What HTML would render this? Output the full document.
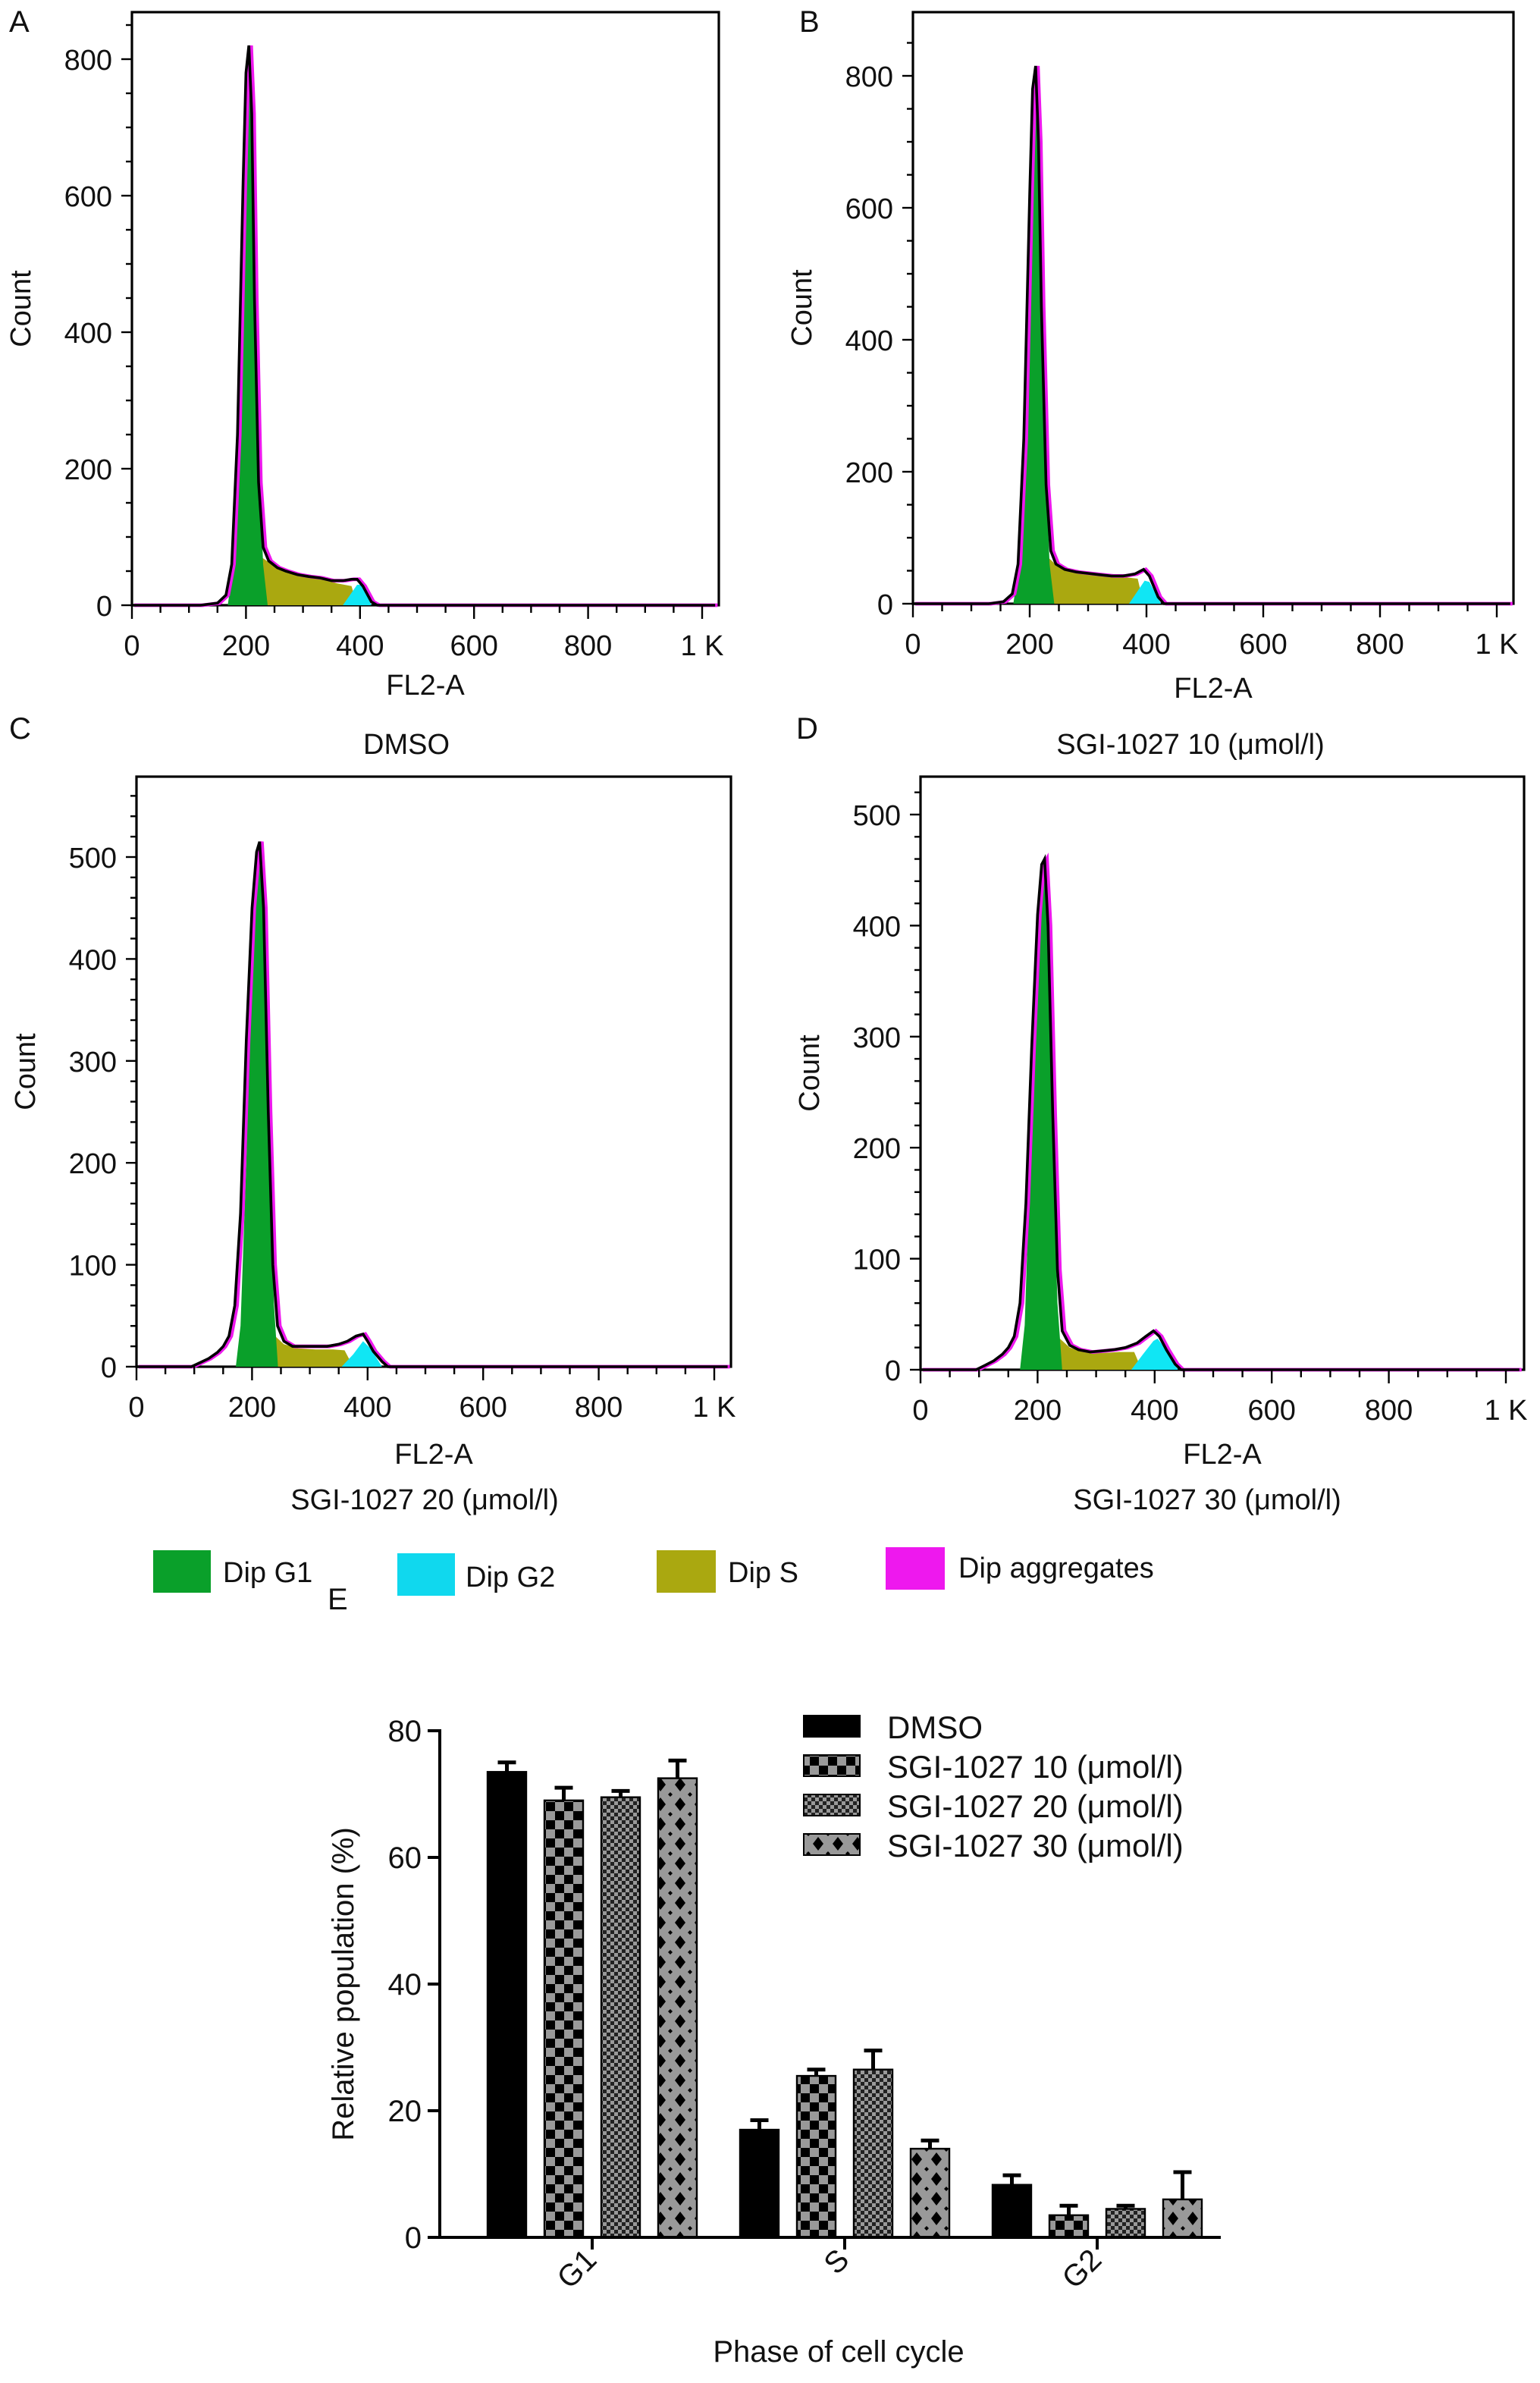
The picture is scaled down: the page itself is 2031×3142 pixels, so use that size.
<!DOCTYPE html>
<html><head><meta charset="utf-8"><style>
html,body{margin:0;padding:0;background:#fff}
svg{display:block}
text{font-family:"Liberation Sans",Arial,sans-serif;fill:#111}
</style></head><body>
<svg id="fig" width="2031" height="3142" viewBox="0 0 1015.5 1571" xmlns="http://www.w3.org/2000/svg">
<defs>
<pattern id="pChk" width="12" height="12" patternUnits="userSpaceOnUse"><rect width="12" height="12" fill="#999"/><rect width="6" height="6" fill="#000"/><rect x="6" y="6" width="6" height="6" fill="#000"/></pattern>
<pattern id="pFine" width="5" height="5" patternUnits="userSpaceOnUse"><rect width="5" height="5" fill="#999"/><rect width="2.5" height="2.5" fill="#222"/><rect x="2.5" y="2.5" width="2.5" height="2.5" fill="#222"/></pattern>
<pattern id="pDia" width="13" height="13" patternUnits="userSpaceOnUse"><rect width="13" height="13" fill="#999"/><path d="M6.5 2 L10 6.5 L6.5 11 L3 6.5Z" fill="#000"/><path d="M0 0 L1.5 0 L0 1.5Z M13 0 L11.5 0 L13 1.5Z M0 13 L1.5 13 L0 11.5Z M13 13 L11.5 13 L13 11.5Z" fill="#000"/></pattern>
</defs>
<g id="hist"></g>
<g id="legend1">
<rect x="101" y="1022" width="38" height="28" fill="#0aa02a"/>
<text x="147" y="1043" font-size="19">Dip G1</text>
<rect x="262" y="1024" width="38" height="28" fill="#10d8ee"/>
<text x="307" y="1046" font-size="19">Dip G2</text>
<rect x="433" y="1022" width="39" height="28" fill="#aaa810"/>
<text x="480" y="1043" font-size="19">Dip S</text>
<rect x="584" y="1020" width="39" height="28" fill="#ee18ee"/>
<text x="632" y="1040" font-size="19">Dip aggregates</text>
</g>
<g id="bars"></g>
</svg>
<script>
// ---------- Histogram data (FL2-A value, count) ----------
const outlineA = [[0,0],[120,0],[150,3],[165,15],[175,60],[185,250],[195,620],[200,780],[205,820],[210,720],[215,450],[222,180],[230,85],[240,65],[255,55],[270,50],[290,45],[310,42],[330,40],[350,36],[370,36],[385,38],[395,38],[405,28],[420,5],[430,0],[1023,0]];
const g1A = [[168,0],[178,60],[188,300],[197,700],[205,815],[212,650],[220,280],[230,60],[238,0]];
const sA = [[228,0],[228,70],[245,60],[270,50],[300,44],[330,40],[360,32],[385,28],[395,0]];
const g2A = [[370,0],[395,30],[405,30],[420,0]];

const outlineB = [[0,0],[130,0],[155,3],[170,15],[180,60],[190,250],[200,620],[205,780],[210,815],[215,700],[220,450],[228,180],[236,80],[245,60],[260,52],[280,48],[300,46],[320,44],[340,42],[360,42],[380,45],[395,52],[405,42],[420,10],[430,0],[1023,0]];
const g1B = [[172,0],[182,60],[192,300],[202,700],[210,805],[217,650],[225,280],[234,60],[242,0]];
const sB = [[232,0],[232,70],[250,55],[280,48],[310,45],[340,42],[365,40],[385,38],[395,0]];
const g2B = [[370,0],[397,35],[405,33],[425,0]];

const outlineC = [[0,0],[95,0],[110,4],[125,8],[140,14],[150,20],[160,30],[170,60],[180,150],[190,320],[200,450],[208,505],[213,515],[220,450],[228,250],[236,100],[244,40],[255,25],[270,20],[290,20],[310,20],[330,20],[350,22],[365,25],[380,30],[392,32],[400,25],[410,15],[425,5],[435,0],[1023,0]];
const g1C = [[172,0],[180,40],[190,200],[200,420],[210,500],[215,505],[222,420],[230,200],[238,60],[245,0]];
const sC = [[240,0],[240,30],[255,22],[280,18],[310,17],[340,17],[360,16],[375,0]];
const g2C = [[355,0],[375,12],[392,25],[405,18],[425,0]];

const outlineD = [[0,0],[95,0],[110,4],[125,8],[140,14],[150,20],[160,30],[170,60],[180,150],[190,290],[200,410],[207,455],[212,460],[218,400],[226,230],[234,90],[242,35],[255,22],[270,18],[290,16],[310,17],[330,18],[350,20],[370,24],[385,30],[398,35],[408,30],[420,18],[435,5],[445,0],[1023,0]];
const g1D = [[170,0],[178,40],[188,200],[198,390],[207,450],[212,452],[218,380],[226,200],[234,60],[242,0]];
const sD = [[238,0],[238,28],[255,20],[280,16],[310,15],[340,16],[365,16],[378,0]];
const g2D = [[360,0],[380,14],[398,26],[405,28],[420,18],[440,0]];

const xTickVals = [0,200,400,600,800,1000];
const xTickLabels = ["0","200","400","600","800","1 K"];
const yTicksAB = [0,200,400,600,800];
const yTicksCD = [0,100,200,300,400,500];

const panels = [
 {id:"a", letter:"A", L:87, R:474, T:8, y0:399, x1k:463, ypu:0.45, ticks:yTicksAB, minor:50, out:outlineA, g1:g1A, s:sA, g2:g2A, xt:458},
 {id:"b", letter:"B", L:602, R:998, T:8, y0:398, x1k:987, ypu:0.435, ticks:yTicksAB, minor:50, out:outlineB, g1:g1B, s:sB, g2:g2B, xt:460},
 {id:"c", letter:"C", L:90, R:482, T:512, y0:901, x1k:471, ypu:0.672, ticks:yTicksCD, minor:20, out:outlineC, g1:g1C, s:sC, g2:g2C, xt:965},
 {id:"d", letter:"D", L:607, R:1005, T:512, y0:903, x1k:993, ypu:0.732, ticks:yTicksCD, minor:20, out:outlineD, g1:g1D, s:sD, g2:g2D, xt:965}
];
const panelTitles = [["DMSO",268,497],["SGI-1027 10 (\u03bcmol/l)",785,497],["SGI-1027 20 (\u03bcmol/l)",280,995],["SGI-1027 30 (\u03bcmol/l)",796,995]];
const letterPos = [[6,21],[527,21],[6,487],[525,487]];

const NS="http://www.w3.org/2000/svg";
function mk(tag, attrs, parent){const e=document.createElementNS(NS,tag);for(const k in attrs)e.setAttribute(k,attrs[k]);parent.appendChild(e);return e;}
const hist=document.getElementById('hist');

panels.forEach((p,i)=>{
  const g=mk('g',{},hist);
  
  
  const xs=v=>p.L+v*(p.x1k-p.L)/1000;
  const ys=c=>p.y0-c*p.ypu;
  const pts=a=>a.map(q=>xs(q[0]).toFixed(1)+','+ys(q[1]).toFixed(1)).join(' ');
  const box=mk('rect',{x:p.L,y:p.T,width:p.R-p.L,height:p.y0-p.T,fill:'none',stroke:'#000','stroke-width':1.6},g);
  
  
  const sP=mk('polygon',{points:pts(p.s),fill:'#aaa810'},g);
  
  
  const g2P=mk('polygon',{points:pts(p.g2),fill:'#10e6f4'},g);
  
  
  const g1P=mk('polygon',{points:pts(p.g1),fill:'#0aa02a'},g);
  
  
  const mag=mk('polyline',{points:pts(p.out.map(q=>[q[0]+4,q[1]])),fill:'none',stroke:'#ee18ee','stroke-width':2.4},g);
  
  
  const ol=mk('polyline',{points:pts(p.out),fill:'none',stroke:'#000','stroke-width':1.8},g);
  
  
  for(let v=0;v<=1000;v+=50){
    const major=v%200===0;
    const t=mk('line',{x1:xs(v),x2:xs(v),y1:p.y0,y2:p.y0+(major?9:5),stroke:'#000','stroke-width':1.2},g);
    
    
  }
  xTickVals.forEach((v,j)=>{
    const t=mk('text',{x:xs(v),y:p.y0+33,'font-size':19,'text-anchor':'middle'},g);
    t.textContent=xTickLabels[j];
    
    
  });
  for(let v=0;ys(v)>=p.T;v+=p.minor){
    const major=p.ticks.includes(v);
    const t=mk('line',{x1:p.L-(major?7:4),x2:p.L,y1:ys(v),y2:ys(v),stroke:'#000','stroke-width':1.2},g);
    
    
  }
  p.ticks.forEach(v=>{
    const t=mk('text',{x:p.L-13,y:ys(v)+7,'font-size':19,'text-anchor':'end'},g);
    t.textContent=String(v);
    
    
  });
  const cy=(p.T+p.y0)/2;
  const yt=mk('text',{x:0,y:0,'font-size':19,'text-anchor':'middle',transform:'translate('+(p.L-67)+','+cy+') rotate(-90)'},g);
  yt.textContent='Count';
  
  
  const xt=mk('text',{x:(p.L+p.R)/2,y:p.xt,'font-size':19,'text-anchor':'middle'},g);
  xt.textContent='FL2-A';
  
  
  const tt=mk('text',{x:panelTitles[i][1],y:panelTitles[i][2],'font-size':19,'text-anchor':'middle'},g);
  tt.textContent=panelTitles[i][0];
  
  
  const lt=mk('text',{x:letterPos[i][0],y:letterPos[i][1],'font-size':20},g);
  lt.textContent=p.letter;
  
  
});

// ---------- Bar chart E ----------
const phases = ["G1","S","G2"];
const seriesNames = ["DMSO","SGI-1027 10 (\u03bcmol/l)","SGI-1027 20 (\u03bcmol/l)","SGI-1027 30 (\u03bcmol/l)"];
const dmsoVals = [73.5, 17, 8.3];
const sgi10Vals = [69, 25.5, 3.5];
const sgi20Vals = [69.5, 26.5, 4.5];
const sgi30Vals = [72.5, 14, 6];
const dmsoErr = [1.5, 1.5, 1.5];
const sgi10Err = [2, 1, 1.5];
const sgi20Err = [1, 3, 0.5];
const sgi30Err = [2.8, 1.3, 4.3];
const yTicksE = [0,20,40,60,80];

const seriesVals=[dmsoVals,sgi10Vals,sgi20Vals,sgi30Vals];
const seriesErr=[dmsoErr,sgi10Err,sgi20Err,sgi30Err];
const fills=['#000','url(#pChk)','url(#pFine)','url(#pDia)'];
const bars=document.getElementById('bars');
const AX=290, AR=805, Y0=1475, PPU=4.175;
const yE=v=>Y0-v*PPU;
const groupStart=gi=>321.5+gi*166.5;
const barW=25.5, barStep=37.5;

const eg=mk('g',{},bars);


seriesVals.forEach((vals,si)=>{
  vals.forEach((v,gi)=>{
    const x=groupStart(gi)+si*barStep;
    const r=mk('rect',{x:x,y:yE(v),width:barW,height:v*PPU,fill:fills[si],stroke:'#000','stroke-width':1.2},eg);
    
    
    const e=seriesErr[si][gi];
    const cx=x+barW/2;
    const el=mk('path',{d:'M'+cx+' '+yE(v)+' V'+yE(v+e)+' M'+(cx-6)+' '+yE(v+e)+' H'+(cx+6),stroke:'#000','stroke-width':2.5,fill:'none'},eg);
    
    
  });
});
const axes=mk('path',{d:'M'+AX+' '+(yE(80)-1)+' V'+Y0+' H'+AR,stroke:'#000','stroke-width':2,fill:'none'},eg);


yTicksE.forEach(v=>{
  const t=mk('line',{x1:AX-8,x2:AX,y1:yE(v),y2:yE(v),stroke:'#000','stroke-width':2},eg);
  
  
  const l=mk('text',{x:AX-12,y:yE(v)+7,'font-size':20,'text-anchor':'end'},eg);
  l.textContent=String(v);
  
  
});
phases.forEach((ph,gi)=>{
  const cx=groupStart(gi)+1.5*barStep+barW/2;
  const t=mk('line',{x1:cx,x2:cx,y1:Y0,y2:Y0+8,stroke:'#000','stroke-width':2},eg);
  
  
  const l=mk('text',{x:0,y:0,'font-size':20,'text-anchor':'end',transform:'translate('+(cx+4)+','+(Y0+16)+') rotate(-45)'},eg);
  l.textContent=ph;
  
  
});
const ytE=mk('text',{x:0,y:0,'font-size':20,'text-anchor':'middle',transform:'translate(233,1308) rotate(-90)'},eg);
ytE.textContent='Relative population (%)';


const xtE=mk('text',{x:553,y:1557,'font-size':20,'text-anchor':'middle'},eg);
xtE.textContent='Phase of cell cycle';


const le=mk('text',{x:216,y:1061,'font-size':20},eg);
le.textContent='E';


seriesNames.forEach((n,si)=>{
  const y=1131+si*26;
  const r=mk('rect',{x:530,y:y,width:37,height:14,fill:fills[si],stroke:'#000','stroke-width':1},eg);
  
  
  const t=mk('text',{x:585,y:y+15,'font-size':21},eg);
  t.textContent=n;
  
  
});
</script>
</body></html>
